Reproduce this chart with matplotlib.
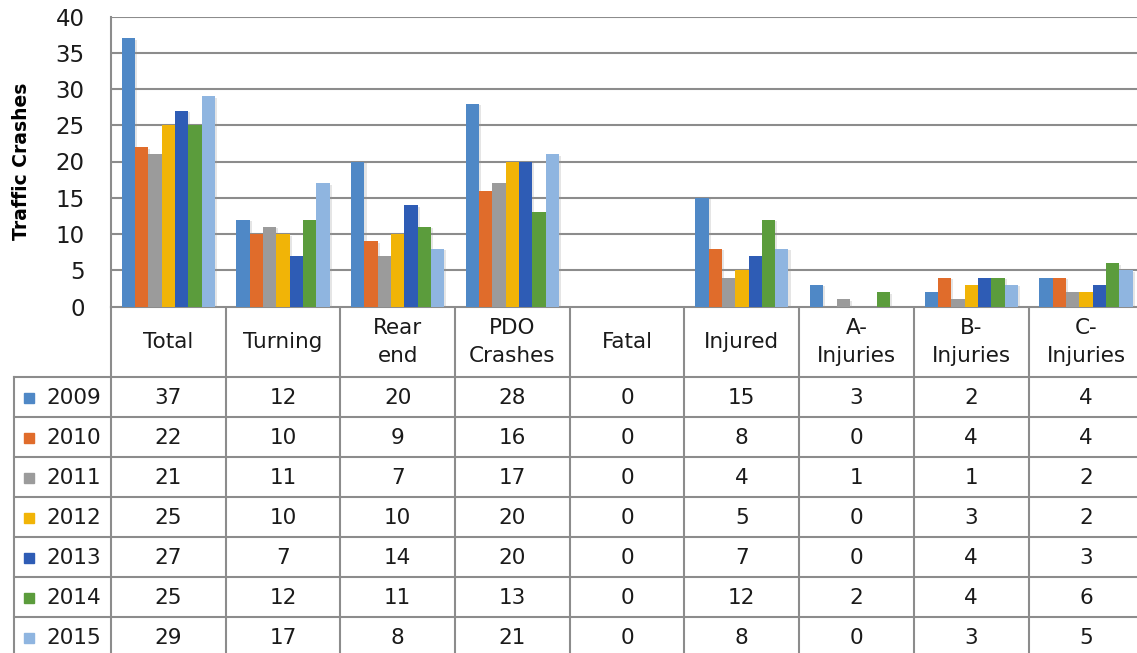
import matplotlib
matplotlib.use("Agg")
import matplotlib.pyplot as plt
import matplotlib.patheffects as pe
import matplotlib.transforms as mtransforms
from matplotlib.patches import Rectangle
import numpy as np

categories = ["Total", "Turning", "Rear\nend", "PDO\nCrashes", "Fatal",
              "Injured", "A-\nInjuries", "B-\nInjuries", "C-\nInjuries"]
years = ["2009", "2010", "2011", "2012", "2013", "2014", "2015"]
v2009 = [37, 12, 20, 28, 0, 15, 3, 2, 4]
v2010 = [22, 10, 9, 16, 0, 8, 0, 4, 4]
v2011 = [21, 11, 7, 17, 0, 4, 1, 1, 2]
v2012 = [25, 10, 10, 20, 0, 5, 0, 3, 2]
v2013 = [27, 7, 14, 20, 0, 7, 0, 4, 3]
v2014 = [25, 12, 11, 13, 0, 12, 2, 4, 6]
v2015 = [29, 17, 8, 21, 0, 8, 0, 3, 5]
series = [v2009, v2010, v2011, v2012, v2013, v2014, v2015]
colors = ["#4F88C6", "#E06C2B", "#9B9B9B", "#F1B407", "#2E5CB5", "#5B9C3C", "#8FB5E0"]

W, H = 1137, 653
fig = plt.figure(figsize=(W / 100, H / 100), dpi=100)
fig.patch.set_facecolor("white")

grid_col = "#8C8C8C"
font = "DejaVu Sans"

# plot area in pixels
x0, cw = 111, 114.7
y_top, y_zero = 16.5, 306.5
ax = fig.add_axes([x0 / W, (H - y_zero) / H, 9 * cw / W, (y_zero - y_top) / H])
ax.set_xlim(-0.5, 8.5)
ax.set_ylim(0, 40)

n = len(series)
bw = 0.116
x = np.arange(len(categories))
# soft drop shadow like the Excel bars
shadow = [pe.SimplePatchShadow(offset=(1.5, -1.2), shadow_rgbFace="#999999", alpha=0.25), pe.Normal()]
for i, (vals, c) in enumerate(zip(series, colors)):
    bars = ax.bar(x + (i - (n - 1) / 2) * bw, vals, bw, color=c, zorder=3)
    for b in bars:
        b.set_path_effects(shadow)

ax.set_yticks(range(0, 41, 5))
ax.yaxis.grid(True, color=grid_col, lw=1.5, zorder=0)
ax.set_xticks([])
ax.tick_params(axis="y", length=0, pad=19, labelsize=16.5, labelcolor="#1a1a1a")
for lab in ax.get_yticklabels():
    lab.set_fontfamily(font)
for s in ["top", "right", "bottom"]:
    ax.spines[s].set_visible(False)
ax.spines["left"].set_color(grid_col)
ax.spines["left"].set_linewidth(1.5)
ax.set_ylabel("Traffic Crashes", fontsize=13.5, fontweight="bold", family=font, labelpad=10)
ax.yaxis.set_label_coords(-80 / (9 * cw), 0.5)

# table below the plot
tab = fig.add_axes([0, 0, 1, 1], zorder=-1)
tab.set_xlim(0, W)
tab.set_ylim(H, 0)
tab.axis("off")
blend = mtransforms.blended_transform_factory(ax.transData, tab.transData)

row_top, row_h = 377, 40
t_left = 14
lw = 1.5

# horizontal lines
tab.plot([x0, W + 10], [307, 307], color=grid_col, lw=lw)
for k in range(len(years) + 1):
    yy = row_top + k * row_h
    tab.plot([t_left, W + 10], [yy, yy], color=grid_col, lw=lw)
# vertical lines
tab.plot([t_left, t_left], [row_top, H + 10], color=grid_col, lw=lw)
for j in range(len(categories) + 1):
    tab.plot([j - 0.5, j - 0.5], [307, H + 10], color=grid_col, lw=lw,
             transform=blend, clip_on=False)

# header texts
for j, cat in enumerate(categories):
    tab.text(j, 342, cat, transform=blend, ha="center", va="center",
             fontsize=15.5, family=font, color="#1a1a1a", linespacing=1.45)

# rows
for k, (yr, vals, c) in enumerate(zip(years, series, colors)):
    yc = row_top + k * row_h + row_h / 2 + 1
    tab.add_patch(Rectangle((24, yc - 5), 10, 10, color=c))
    tab.text(46, yc, yr, ha="left", va="center", fontsize=15.5, family=font, color="#1a1a1a")
    for j, v in enumerate(vals):
        tab.text(j, yc, str(v), transform=blend, ha="center", va="center",
                 fontsize=15.5, family=font, color="#1a1a1a")

fig.savefig("out.png", dpi=100)
